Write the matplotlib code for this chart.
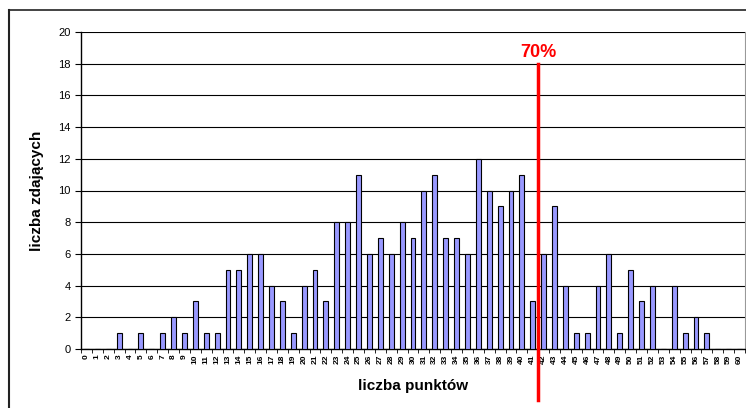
import matplotlib
matplotlib.use('Agg')
import matplotlib.pyplot as plt
from matplotlib.lines import Line2D
import numpy as np

# wyniki egzaminu: liczba zdajacych dla kazdej liczby punktow
punkty = list(range(0, 61))
zdajacy = [0, 0, 0, 1, 0, 1, 0, 1, 2, 1,
           3, 1, 1, 5, 5, 6, 6, 4, 3, 1,
           4, 5, 3, 8, 8, 11, 6, 7, 6, 8,
           7, 10, 11, 7, 7, 6, 12, 10, 9, 10,
           11, 3, 6, 9, 4, 1, 1, 4, 6, 1,
           5, 3, 4, 0, 4, 1, 2, 1, 0, 0, 0]
prog = 42          # 70% z 60 punktow
prog_label = "70%"

fig = plt.figure(figsize=(7.46, 4.08), dpi=100)
ax = fig.add_axes([81/746, 59/408, 664/746, 317/408])

x = np.arange(len(punkty))
ax.bar(x, zdajacy, width=0.45, color="#9999ff", edgecolor="black", linewidth=0.8, zorder=3)

ax.set_xlim(-0.5, len(punkty) - 0.5)
ax.set_ylim(0, 20)
ax.set_yticks(range(0, 21, 2))
ax.yaxis.grid(True, color="black", linewidth=0.8, zorder=0)
ax.set_axisbelow(True)

ax.set_xticks(x)
ax.set_xticklabels([str(p) for p in punkty], rotation=90, fontsize=6, fontweight="bold",
                   family="Liberation Sans")
ax.set_xticks(np.arange(-0.5, len(punkty), 1), minor=True)
ax.tick_params(axis="x", which="major", length=0, pad=4)
ax.tick_params(axis="x", which="minor", length=3, direction="out", color="black")
ax.tick_params(axis="y", labelsize=8, length=4, direction="out")
for t in ax.get_yticklabels():
    t.set_family("Liberation Sans")

ax.spines["top"].set_visible(False)
ax.spines["right"].set_color("#999999")
ax.spines["left"].set_linewidth(1)
ax.spines["bottom"].set_linewidth(1)

ax.set_xlabel("liczba punktów", fontsize=11, fontweight="bold", family="Liberation Sans", labelpad=11)
ax.set_ylabel("liczba zdających", fontsize=11, fontweight="bold", family="Liberation Sans", labelpad=10)

# linia progu 70%
ax.plot([prog - 0.5, prog - 0.5], [-3.2, 18], color="red", linewidth=2.5, clip_on=False, zorder=5)
ax.text(prog - 0.5, 18.7, prog_label, color="red", fontsize=13, fontweight="bold",
        ha="center", va="center", family="Liberation Sans")

# ramka wykresu
fig.add_artist(Line2D([9/746, 9/746], [0, 398/408], color="#222222", linewidth=1.5))
fig.add_artist(Line2D([9/746, 1], [398/408, 398/408], color="#222222", linewidth=1.2))

fig.savefig("out.png", dpi=100)
